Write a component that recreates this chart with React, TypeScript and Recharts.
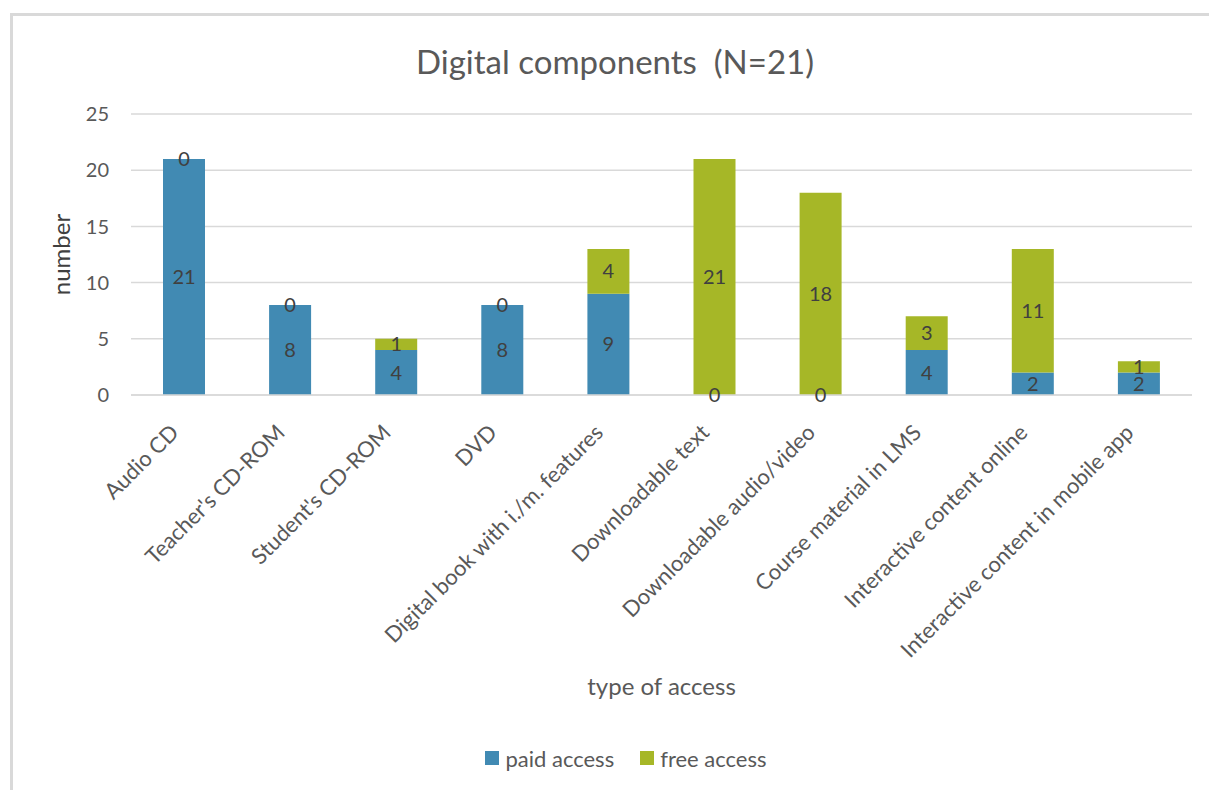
import React from 'react';
import {
  BarChart,
  Bar,
  XAxis,
  YAxis,
  CartesianGrid,
  Legend,
  LabelList,
} from 'recharts';

const categories = [
  'Audio CD',
  "Teacher's CD-ROM",
  "Student's CD-ROM",
  'DVD',
  'Digital book with i./m. features',
  'Downloadable text',
  'Downloadable audio/video',
  'Course material in LMS',
  'Interactive content online',
  'Interactive content in mobile app',
];
const paidAccess = [21, 8, 4, 8, 9, 0, 0, 4, 2, 2];
const freeAccess = [0, 0, 1, 0, 4, 21, 18, 3, 11, 1];
const yTicks = [0, 5, 10, 15, 20, 25];

const data = categories.map((name, i) => ({
  name,
  paid: paidAccess[i],
  free: freeAccess[i],
}));

const FONT = 'Lato, "Open Sans", sans-serif';
const TEXT = '#595959';
const LABEL = '#404040';
const BLUE = '#418AB3';
const GREEN = '#A6B727';

function AngledTick(props: any) {
  const { x, y, payload } = props;
  return (
    <g transform={`translate(${x - 4},${y + 31}) rotate(-45)`}>
      <text x={0} y={0} textAnchor="end" fill={TEXT} fontSize={22} fontFamily={FONT}>
        {payload.value}
      </text>
    </g>
  );
}

function valueText(cx: number, cy: number, v: number, key: string) {
  return (
    <text key={key} x={cx} y={cy} dy="0.35em" textAnchor="middle" fill={LABEL} fontSize={20} fontFamily={FONT}>
      {v}
    </text>
  );
}

// label lists get the category name as value, so the row can be looked up
function segmentLabel(own: number[], other: number[], zeroAtTop: boolean) {
  return (props: any) => {
    const vb = props.viewBox || props;
    const i = categories.indexOf(props.value);
    if (i < 0) return null;
    const cx = vb.x + vb.width / 2;
    const out = [];
    if (own[i] > 0) out.push(valueText(cx, vb.y + vb.height / 2, own[i], 'v'));
    if (other[i] === 0) out.push(valueText(cx, zeroAtTop ? vb.y : vb.y + vb.height, 0, 'z'));
    return <g>{out}</g>;
  };
}

function LegendContent() {
  const items = [
    { label: 'paid access', color: BLUE },
    { label: 'free access', color: GREEN },
  ];
  return (
    <div style={{ height: 26, display: 'flex', justifyContent: 'center', alignItems: 'center', fontFamily: FONT, fontSize: 22, color: TEXT }}>
      {items.map((it, i) => (
        <div key={it.label} style={{ display: 'flex', alignItems: 'center', marginLeft: i ? 26 : 0 }}>
          <span style={{ display: 'inline-block', width: 14, height: 14, background: it.color, marginRight: 6 }} />
          <span>{it.label}</span>
        </div>
      ))}
    </div>
  );
}

export default function App() {
  return (
    <div style={{ position: 'absolute', left: 0, top: 0, width: 1209, height: 790, background: '#fff', fontFamily: FONT }}>
      <div
        style={{
          position: 'absolute',
          left: 10,
          top: 13,
          width: 1220,
          height: 800,
          border: '3px solid #d9d9d9',
          boxSizing: 'border-box',
        }}
      />
      <div
        style={{
          position: 'absolute',
          left: 0,
          width: 1230,
          top: 41,
          lineHeight: '40px',
          textAlign: 'center',
          fontSize: 33,
          color: TEXT,
          whiteSpace: 'pre',
        }}
      >
        {'Digital components  (N=21)'}
      </div>
      <div style={{ position: 'absolute', left: 0, top: 0 }}>
        <BarChart
          width={1209}
          height={790}
          data={data}
          margin={{ top: 114, right: 17, left: 60, bottom: 19 }}
        >
          <CartesianGrid vertical={false} stroke="#d9d9d9" strokeWidth={1.5} />
          <XAxis
            dataKey="name"
            interval={0}
            tick={<AngledTick />}
            tickLine={false}
            axisLine={{ stroke: '#d9d9d9', strokeWidth: 1.5 }}
            height={350}
            label={{
              content: (p: any) => {
                const vb = p.viewBox;
                return (
                  <text
                    x={vb.x + vb.width / 2}
                    y={vb.y + 300}
                    textAnchor="middle"
                    fill={TEXT}
                    fontSize={24}
                    fontFamily={FONT}
                  >
                    type of access
                  </text>
                );
              },
            }}
          />
          <YAxis
            domain={[0, 25]}
            ticks={yTicks}
            width={71}
            tickLine={false}
            axisLine={false}
            tickMargin={16}
            tick={{ fill: TEXT, fontSize: 20, fontFamily: FONT }}
            label={{
              content: (p: any) => {
                const vb = p.viewBox;
                const cy = vb.y + vb.height / 2;
                return (
                  <text
                    x={70}
                    y={cy}
                    textAnchor="middle"
                    fill={LABEL}
                    fontSize={24}
                    fontFamily={FONT}
                    transform={`rotate(-90, 70, ${cy})`}
                  >
                    number
                  </text>
                );
              },
            }}
          />
          <Legend verticalAlign="bottom" align="center" content={<LegendContent />} />
          <Bar dataKey="paid" name="paid access" stackId="a" fill={BLUE} barSize={42} isAnimationActive={false}>
            <LabelList dataKey="name" content={segmentLabel(paidAccess, freeAccess, true)} />
          </Bar>
          <Bar dataKey="free" name="free access" stackId="a" fill={GREEN} barSize={42} isAnimationActive={false}>
            <LabelList dataKey="name" content={segmentLabel(freeAccess, paidAccess, false)} />
          </Bar>
        </BarChart>
      </div>
    </div>
  );
}
